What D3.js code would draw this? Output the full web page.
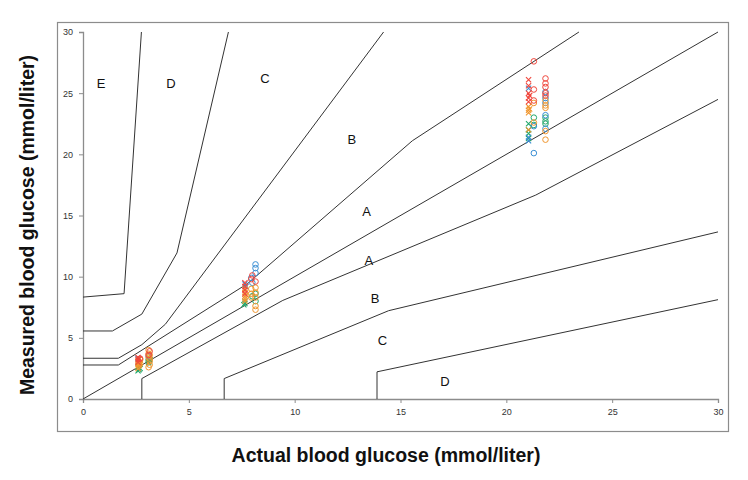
<!DOCTYPE html>
<html>
<head>
<meta charset="utf-8">
<script src="https://cdn.jsdelivr.net/npm/d3@7"></script>
<style>
  body { margin: 0; background: #fff; }
  svg { display: block; font-family: "Liberation Sans", Arial, sans-serif; }
</style>
</head>
<body>
<svg id="chart" width="748" height="480"></svg>
<script>
// ---- Axis ticks ----
const xTicks = [0, 5, 10, 15, 20, 25, 30];
const yTicks = [0, 5, 10, 15, 20, 25, 30];

// ---- Parkes (consensus) error grid boundaries, mmol/L ----
const identityLine = [[0, 0], [30, 30]];
const aUpper = [[0, 2.78], [1.67, 2.78], [7.78, 9.44], [15.56, 21.11], [23.43, 30]];
const aLower = [[2.78, 0], [2.78, 1.67], [9.44, 8.06], [21.39, 16.67], [30, 24.49]];
const bUpper = [[0, 3.33], [1.67, 3.33], [2.78, 4.44], [3.89, 6.11], [14.2, 30]];
const bLower = [[6.67, 0], [6.67, 1.67], [14.44, 7.22], [30, 13.66]];
const cUpper = [[0, 5.56], [1.39, 5.56], [2.78, 6.94], [4.44, 11.94], [6.87, 30]];
const cLower = [[13.89, 0], [13.89, 2.22], [30, 8.12]];
const dUpper = [[0, 8.33], [1.94, 8.61], [2.76, 30]];

// ---- Zone labels ----
const zoneLabels = ["E", "D", "C", "B", "A", "A", "B", "C", "D"];
const zoneLabelX = [0.85, 4.15, 8.6, 12.7, 13.4, 13.5, 13.8, 14.15, 17.1];
const zoneLabelY = [25.8, 25.8, 26.2, 21.2, 15.3, 11.3, 8.2, 4.8, 1.4];

// ---- Measurements [actual, measured], per device (colour) and marker ----
const redX = [[2.6, 3.4], [2.6, 3.2], [2.6, 3.0], [2.65, 3.3], [7.65, 9.5], [7.65, 9.2], [7.65, 8.9], [7.65, 8.6],
  [21.05, 26.1], [21.05, 25.6], [21.05, 25.0], [21.05, 24.6], [21.05, 24.3], [21.1, 24.8]];
const redO = [[2.7, 3.3], [3.1, 3.6], [3.15, 3.9], [7.95, 9.8], [8.0, 10.1], [8.15, 9.6],
  [21.3, 27.6], [21.3, 25.3], [21.3, 24.4], [21.85, 26.2], [21.85, 25.8], [21.85, 25.5], [21.85, 25.0], [21.85, 24.8]];
const orangeX = [[2.6, 3.1], [2.6, 2.9], [2.6, 2.7], [2.6, 2.5], [2.65, 3.0], [2.65, 2.8],
  [7.65, 9.0], [7.65, 8.7], [7.65, 8.4], [7.65, 8.2], [7.65, 8.0], [7.7, 8.5],
  [21.05, 23.9], [21.05, 23.6], [21.05, 23.4], [21.05, 22.0], [21.1, 23.7]];
const orangeO = [[2.65, 3.0], [2.65, 2.7], [2.7, 3.2], [2.7, 2.9],
  [3.1, 4.0], [3.1, 3.7], [3.1, 3.4], [3.15, 3.1], [3.15, 2.8], [3.1, 2.6], [3.15, 3.6], [3.15, 3.3],
  [7.95, 9.0], [7.95, 8.6], [7.95, 8.3], [8.15, 9.1], [8.15, 8.7], [8.15, 8.3], [8.15, 7.6], [8.15, 7.3],
  [21.3, 24.2], [21.3, 22.6], [21.85, 24.4], [21.85, 24.0], [21.85, 23.8], [21.85, 21.9], [21.85, 21.2]];
const blueX = [[2.6, 3.3], [7.65, 9.4], [7.7, 9.2], [21.05, 25.4], [21.05, 21.1], [21.05, 21.4]];
const blueO = [[3.1, 3.5], [7.95, 9.9], [8.15, 11.0], [8.15, 10.7], [8.15, 10.3], [8.0, 9.5],
  [21.3, 20.1], [21.3, 22.3], [21.85, 25.1], [21.85, 24.6], [21.85, 24.2], [21.85, 23.2], [21.85, 22.1]];
const greenX = [[2.6, 2.6], [2.65, 2.4], [2.6, 2.3], [2.7, 2.5], [3.1, 3.0], [3.15, 3.2],
  [7.65, 8.0], [7.65, 7.8], [7.6, 7.7],
  [21.05, 22.5], [21.05, 22.0], [21.05, 21.7], [21.05, 21.3]];
const greenO = [[3.1, 3.2], [3.1, 3.0], [3.15, 3.3], [8.0, 8.4], [8.15, 8.0], [8.15, 8.6],
  [21.3, 23.0], [21.3, 22.4], [21.85, 23.0], [21.85, 22.7], [21.85, 22.5]];

const series = [
  { pts: greenO, color: "#22a86c", shape: "o" },
  { pts: greenX, color: "#22a86c", shape: "x" },
  { pts: blueO, color: "#3b8fd4", shape: "o" },
  { pts: blueX, color: "#3b8fd4", shape: "x" },
  { pts: orangeO, color: "#f0962e", shape: "o" },
  { pts: orangeX, color: "#f0962e", shape: "x" },
  { pts: redO, color: "#f0463c", shape: "o" },
  { pts: redX, color: "#f0463c", shape: "x" }
];

const svg = d3.select("#chart");
const x = d3.scaleLinear().domain([0, 30]).range([83, 718]);
const y = d3.scaleLinear().domain([0, 30]).range([399, 32]);

// outer frame
svg.append("rect").attr("x", 57.5).attr("y", 22.5).attr("width", 671).attr("height", 409)
  .attr("fill", "none").attr("stroke", "#8c8c8c").attr("stroke-width", 1.2);

// axes
const xAxis = svg.append("g").attr("transform", "translate(0,399)")
  .call(d3.axisBottom(x).tickValues(xTicks).tickSize(4).tickPadding(6));
const yAxis = svg.append("g").attr("transform", "translate(83,0)")
  .call(d3.axisLeft(y).tickValues(yTicks).tickSize(4).tickPadding(6));
[xAxis, yAxis].forEach(g => {
  g.select(".domain").attr("stroke", "#8c8c8c").attr("stroke-width", 1.3);
  g.selectAll(".tick line").attr("stroke", "#8c8c8c");
  g.selectAll(".tick text").attr("fill", "#333").attr("font-size", 9)
    .attr("font-family", "Liberation Sans, Arial, sans-serif");
});

// clip
svg.append("clipPath").attr("id", "clip").append("rect")
  .attr("x", 83).attr("y", 31).attr("width", 636).attr("height", 369);

const line = d3.line().x(d => x(d[0])).y(d => y(d[1]));
const grid = svg.append("g").attr("clip-path", "url(#clip)");
[identityLine, aUpper, aLower, bUpper, bLower, cUpper, cLower, dUpper].forEach(l => {
  grid.append("path").attr("d", line(l)).attr("fill", "none")
    .attr("stroke", "#333").attr("stroke-width", 1);
});

// zone labels
svg.append("g").selectAll("text").data(zoneLabels).join("text")
  .attr("x", (d, i) => x(zoneLabelX[i])).attr("y", (d, i) => y(zoneLabelY[i]))
  .attr("text-anchor", "middle").attr("dominant-baseline", "central")
  .attr("font-size", 13).attr("fill", "#111").text(d => d);

// points
const pg = svg.append("g");
series.forEach(s => {
  if (s.shape === "o") {
    pg.selectAll(null).data(s.pts).join("circle")
      .attr("cx", d => x(d[0])).attr("cy", d => y(d[1])).attr("r", 2.8)
      .attr("fill", "none").attr("stroke", s.color).attr("stroke-width", 1);
  } else {
    pg.selectAll(null).data(s.pts).join("path")
      .attr("d", d => {
        const cx = x(d[0]), cy = y(d[1]), r = 2.6;
        return `M${cx - r},${cy - r}L${cx + r},${cy + r}M${cx - r},${cy + r}L${cx + r},${cy - r}`;
      })
      .attr("fill", "none").attr("stroke", s.color).attr("stroke-width", 1.1);
  }
});

// axis titles
svg.append("text").attr("x", 386).attr("y", 462).attr("text-anchor", "middle")
  .attr("font-size", 19.5).attr("font-weight", "bold").attr("fill", "#111")
  .text("Actual blood glucose (mmol/liter)");
svg.append("text").attr("transform", "translate(34,225) rotate(-90)").attr("text-anchor", "middle")
  .attr("font-size", 19.5).attr("font-weight", "bold").attr("fill", "#111")
  .text("Measured blood glucose (mmol/liter)");
</script>
</body>
</html>
